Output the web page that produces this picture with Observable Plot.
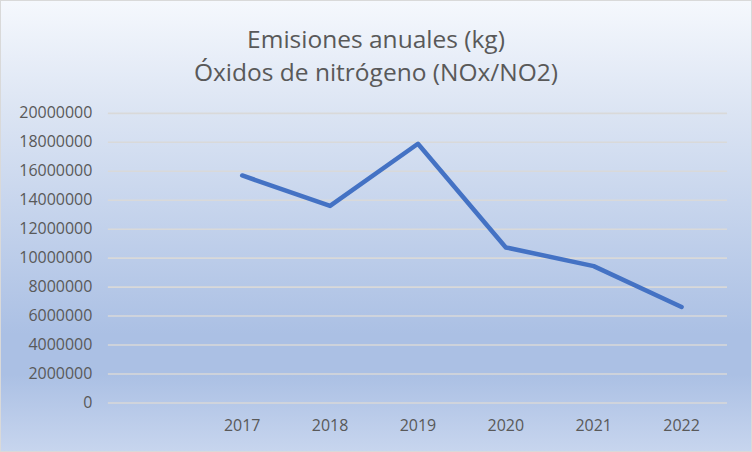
<!DOCTYPE html>
<html>
<head>
<meta charset="utf-8">
<script src="https://cdn.jsdelivr.net/npm/d3@7"></script>
<script src="https://cdn.jsdelivr.net/npm/@observablehq/plot@0.6"></script>
<style>
  html, body { margin: 0; padding: 0; background: #ffffff; }
  #chart {
    position: relative;
    width: 750px; height: 450px;
    border: 1px solid #d9d9d9;
    background: linear-gradient(to bottom, #f5f8fd 0%, #dbe4f3 25%, #abc0e4 74%, #abc0e4 83%, #c7d5ee 100%);
    font-family: "Open Sans", sans-serif;
    overflow: hidden;
  }
  #title {
    position: absolute; left: 0; top: 21px; width: 750px;
    text-align: center; color: #595959; font-size: 24.5px; line-height: 33px;
  }
  #plot { position: absolute; left: -1px; top: -1px; }
</style>
</head>
<body>
<div id="chart">
  <div id="title">Emisiones anuales (kg)<br>Óxidos de nitrógeno (NOx/NO2)</div>
  <div id="plot"></div>
</div>
<script>
const categories = ["", "2017", "2018", "2019", "2020", "2021", "2022"];
const years = ["2017", "2018", "2019", "2020", "2021", "2022"];
const values = [15710000, 13610000, 17900000, 10740000, 9450000, 6630000];
const yTicks = [0, 2000000, 4000000, 6000000, 8000000, 10000000, 12000000, 14000000, 16000000, 18000000, 20000000];

const data = years.map((y, i) => ({year: y, value: values[i]}));

const chart = Plot.plot({
  width: 752,
  height: 452,
  marginTop: 113,
  marginBottom: 49,
  marginLeft: 108,
  marginRight: 24,
  style: {background: "transparent", fontFamily: "'Open Sans', sans-serif", fontSize: "16px", color: "#595959"},
  x: {type: "point", domain: categories, padding: 0.5, label: null},
  y: {domain: [0, 20000000], label: null},
  marks: [
    Plot.ruleY(yTicks, {stroke: "#d9d9d9", strokeWidth: 1.6, strokeOpacity: 1}),
    Plot.axisY({ticks: yTicks, tickSize: 0, tickPadding: 16, tickFormat: d => String(d), fill: "#595959", fontSize: 16}),
    Plot.axisX({tickSize: 0, tickPadding: 17, fill: "#595959", fontSize: 16}),
    Plot.line(data, {x: "year", y: "value", stroke: "#4472c4", strokeWidth: 4.5, strokeLinecap: "round", strokeLinejoin: "round"})
  ]
});
document.getElementById("plot").appendChild(chart);
</script>
</body>
</html>
